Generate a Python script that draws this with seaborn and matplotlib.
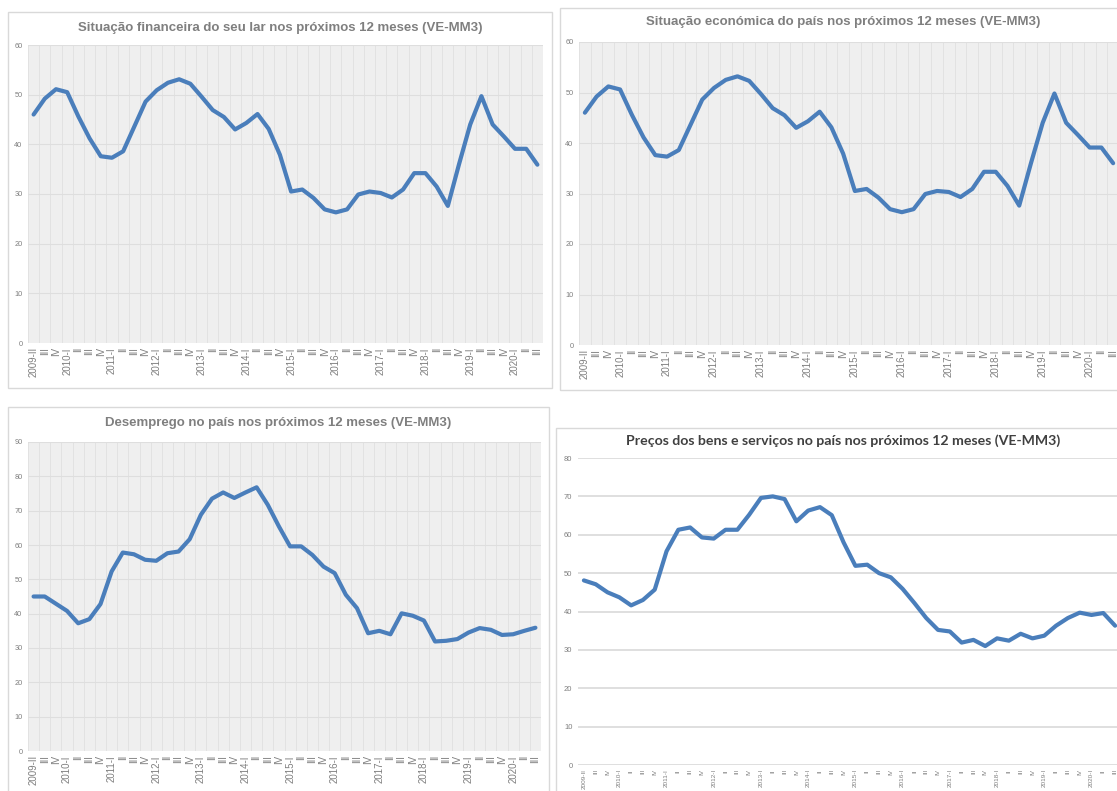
import numpy as np
import pandas as pd
import matplotlib
matplotlib.use("Agg")
import matplotlib.pyplot as plt
from matplotlib.patches import Rectangle
import seaborn as sns

# quarters 2009-II .. 2020-III
roman = ["I", "II", "III", "IV"]
quarters = [(2009, q) for q in roman[1:]]
quarters += [(y, q) for y in range(2010, 2020) for q in roman]
quarters += [(2020, q) for q in roman[:3]]
tick_labels = [f"{y}-{q}" if (q == "I" or i == 0) else q
               for i, (y, q) in enumerate(quarters)]

fin_lar = [46.0, 49.2, 51.1, 50.5, 45.6, 41.2, 37.6, 37.3, 38.6, 43.6,
           48.6, 50.9, 52.4, 53.1, 52.2, 49.6, 46.9, 45.5, 43.0, 44.3,
           46.1, 43.1, 37.9, 30.5, 30.9, 29.2, 26.9, 26.3, 26.9, 29.9,
           30.5, 30.2, 29.3, 30.9, 34.2, 34.2, 31.5, 27.6, 36.0, 44.0,
           49.7, 44.0, 41.6, 39.1, 39.1, 35.9]

eco_pais = [46.0, 49.2, 51.2, 50.6, 45.6, 41.1, 37.6, 37.3, 38.6, 43.6,
            48.6, 50.9, 52.5, 53.2, 52.3, 49.7, 46.9, 45.5, 43.0, 44.3,
            46.2, 43.1, 37.9, 30.5, 30.9, 29.2, 26.9, 26.3, 26.9, 29.9,
            30.5, 30.3, 29.3, 30.9, 34.3, 34.3, 31.5, 27.6, 36.0, 44.0,
            49.8, 44.0, 41.6, 39.1, 39.1, 36.0]

desemprego = [45.0, 45.0, 42.9, 40.8, 37.2, 38.4, 42.8, 52.3, 57.8, 57.3,
              55.7, 55.4, 57.6, 58.1, 61.7, 68.8, 73.5, 75.3, 73.7, 75.3,
              76.8, 71.7, 65.4, 59.6, 59.6, 57.1, 53.7, 51.8, 45.5, 41.6,
              34.3, 35.0, 34.0, 40.1, 39.4, 38.0, 31.9, 32.1, 32.6, 34.5,
              35.8, 35.3, 33.8, 34.0, 35.0, 35.9]

precos = [48.1, 47.1, 45.0, 43.7, 41.6, 43.0, 45.7, 55.7, 61.3, 61.9,
          59.3, 59.0, 61.3, 61.3, 65.2, 69.6, 70.0, 69.3, 63.5, 66.3,
          67.2, 65.1, 58.0, 51.9, 52.2, 50.0, 48.9, 45.9, 42.2, 38.3,
          35.2, 34.8, 31.9, 32.6, 31.0, 33.0, 32.4, 34.2, 33.0, 33.7,
          36.3, 38.3, 39.7, 39.1, 39.6, 36.3]

titles = [
    "Situação financeira do seu lar nos próximos 12 meses (VE-MM3)",
    "Situação económica do país nos próximos 12 meses (VE-MM3)",
    "Desemprego no país nos próximos 12 meses (VE-MM3)",
    "Preços dos bens e serviços no país nos próximos 12 meses (VE-MM3)",
]

W, H = 1117, 791
LINE = "#4a7ebb"

sns.set_style("white")
plt.rcParams["font.family"] = ["Liberation Sans", "DejaVu Sans"]

fig = plt.figure(figsize=(W / 100, H / 100), dpi=100)
fig.patch.set_facecolor("white")


def box(l, t, r, b):
    return [l / W, 1 - b / H, (r - l) / W, (b - t) / H]


def frame(l, t, r, b):
    x, y, w, h = box(l, t, r, b)
    fig.patches.append(Rectangle((x, y), w, h, transform=fig.transFigure,
                                 fill=False, edgecolor="#d9d9d9", lw=1.0))


frame(8, 12, 552, 388)
frame(560, 8, 1130, 390)
frame(8, 407, 549, 805)
frame(556, 428, 1130, 805)

x = np.arange(len(tick_labels))


def excel_panel(rect, values, ymax, title, title_xy, shaded=True,
                xfs=7, yfs=5.3):
    ax = fig.add_axes(box(*rect))
    df = pd.DataFrame({"q": x, "v": values})
    if shaded:
        ax.set_facecolor("#efefef")
        for xi in np.arange(-0.5, len(x) + 0.5, 1):
            ax.axvline(xi, color="#e2e2e2", lw=0.7, zorder=0)
        gcol = "#dedede"
    else:
        ax.set_facecolor("white")
        gcol = "#d9d9d9"
    for yv in range(10, ymax + 1, 10):
        ax.axhline(yv, color=gcol, lw=1.2 if not shaded else 0.8, zorder=0.5)
    if not shaded:
        ax.axhline(0, color=gcol, lw=1.2, zorder=0.5)
    sns.lineplot(data=df, x="q", y="v", ax=ax, color=LINE, linewidth=3.0,
                 zorder=3)
    ax.set_xlim(-0.5, len(x) - 0.5)
    ax.set_ylim(0, ymax)
    ax.set_yticks(range(0, ymax + 1, 10))
    ax.set_yticklabels([str(v) for v in range(0, ymax + 1, 10)],
                       fontsize=yfs, color="#7f7f7f")
    ax.set_xticks(x)
    ax.set_xticklabels(tick_labels, rotation=90, fontsize=xfs,
                       color="#7f7f7f", va="top")
    ax.tick_params(axis="both", length=0, pad=4)
    ax.tick_params(axis="x", pad=3)
    ax.set_xlabel("")
    ax.set_ylabel("")
    for s in ax.spines.values():
        s.set_visible(False)
    fig.text(title_xy[0] / W, 1 - title_xy[1] / H, title, ha="center",
             va="center", **title_kw)
    return ax


title_kw = dict(fontsize=9.5, fontweight="bold", color="#7f7f7f")
excel_panel((28, 45, 543, 343), fin_lar, 60, titles[0], (280, 28))
excel_panel((579, 42, 1119, 345), eco_pais, 60, titles[1], (843, 22))
excel_panel((28, 442, 541, 751), desemprego, 90, titles[2], (278, 423))

title_kw = dict(fontsize=10.2, fontweight="bold", color="#404040",
                family=["Lato", "DejaVu Sans"])
excel_panel((578, 458, 1121, 765), precos, 80, titles[3], (843, 441),
            shaded=False, xfs=4.6, yfs=5.5)

fig.savefig("out.png", dpi=100)
